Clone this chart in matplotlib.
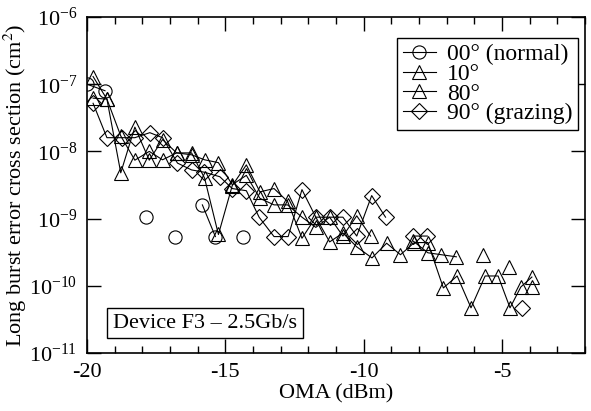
import numpy as np
import matplotlib
matplotlib.use('Agg')
import matplotlib.pyplot as plt
from matplotlib.ticker import MultipleLocator, LogLocator, NullLocator

nan = np.nan

# 00 deg (normal)
x_00 = [-20.0, -19.35, -18.9, -17.88, -17.35, -16.83, -16.3, -15.83, -15.36, -14.85, -14.35]
y_00 = [1.0e-7, 8.0e-8, nan, 1.05e-9, nan, 5.4e-10, nan, 1.6e-9, 5.4e-10, nan, 5.4e-10]

# 10 deg
x_10 = [-19.78, -19.28, -18.78, -18.27, -17.75, -17.27, -16.76, -16.22, -15.75, -15.25,
        -14.75, -14.24, -13.75, -13.24, -12.75, -12.23, -11.73, -11.23, -10.75, -10.25,
        -9.7, -9.17, -8.67, -8.17, -7.68, -7.12, -6.62, -6.12, -5.61, -5.14, -4.71, -4.32, -3.92]
y_10 = [1.3e-7, 6.0e-8, 4.8e-9, 2.3e-8, 7.4e-9, 1.5e-8, 9.5e-9, 9.5e-9, 4.0e-9, 5.8e-10,
        3.1e-9, 6.3e-9, 2.5e-9, 2.8e-9, 1.8e-9, 5.1e-10, 1.05e-9, 4.5e-10, 6.1e-10, 3.8e-10,
        2.6e-10, 4.3e-10, 2.9e-10, 4.4e-10, 4.4e-10, 9.3e-11, 1.4e-10, 4.7e-11, 1.4e-10, 1.4e-10,
        4.7e-11, 9.6e-11, 1.35e-10]

# 80 deg
x_80 = [-19.78, -19.28, -18.78, -18.27, -17.75, -17.27, -16.76, -16.22, -15.75, -15.25,
        -14.75, -14.24, -13.75, -13.24, -12.75, -12.23, -11.73, -11.23, -10.75, -10.25,
        -9.75, -9.2, -8.7, -8.2, -7.68, -7.19, -6.65, -6.15, -5.68, -5.15, -4.75, -4.3, -3.92]
y_80 = [6.2e-8, 6.0e-8, 1.7e-8, 7.4e-9, 1.0e-8, 7.5e-9, 9.5e-9, 8.9e-9, 7.5e-9, 6.8e-9,
        3.2e-9, 4.4e-9, 2.0e-9, 1.6e-9, 1.6e-9, 1.05e-9, 7.4e-10, 1.05e-9, 5.5e-10, 1.1e-9,
        5.5e-10, nan, nan, 4.6e-10, 3.1e-10, 2.9e-10, 2.7e-10, nan, 2.9e-10, nan,
        1.9e-10, nan, 9.6e-11]

# 90 deg (grazing)
x_90 = [-19.78, -19.28, -18.74, -18.27, -17.73, -17.27, -16.73, -16.22, -15.76, -15.2,
        -14.75, -14.24, -13.78, -13.24, -12.73, -12.23, -11.73, -11.23, -10.75, -10.25,
        -9.71, -9.21, -8.7, -8.2, -7.7, -7.2, -4.28]
y_90 = [5.2e-8, 1.6e-8, 1.6e-8, 1.6e-8, 1.9e-8, 1.6e-8, 6.7e-9, 5.3e-9, 4.9e-9, 4.2e-9,
        2.8e-9, 2.6e-9, 1.05e-9, 5.4e-10, 5.4e-10, 2.7e-9, 1.05e-9, 1.05e-9, 1.05e-9, 5.5e-10,
        2.2e-9, 1.05e-9, nan, 5.5e-10, 5.5e-10, nan, 4.7e-11]

plt.rcParams['font.family'] = ['Liberation Serif', 'DejaVu Serif']
plt.rcParams['mathtext.fontset'] = 'stix'
plt.rcParams['font.size'] = 16
plt.rcParams['axes.unicode_minus'] = False

fig = plt.figure(figsize=(5.91, 4.11), dpi=100)
ax = fig.add_axes([87 / 591, 58 / 411, 498 / 591, 336 / 411])

style = dict(color='black', linewidth=0.8, markerfacecolor='none',
             markeredgecolor='black', markeredgewidth=0.8, markersize=9.5)
ax.plot(x_00, y_00, marker='o', label='00\u00b0 (normal)', **style)
ax.plot(x_10, y_10, marker='^', label='10\u00b0', **style)
ax.plot(x_80, y_80, marker='^', label='80\u00b0', **style)
ax.plot(x_90, y_90, marker='D', label='90\u00b0 (grazing)', **dict(style, markersize=8.5))

ax.set_yscale('log')
ax.set_xlim(-20, -2)
ax.set_ylim(1e-11, 1e-6)
ax.xaxis.set_major_locator(MultipleLocator(5))
ax.xaxis.set_minor_locator(MultipleLocator(1))
ax.yaxis.set_major_locator(LogLocator(base=10, numticks=10))
ax.yaxis.set_minor_locator(NullLocator())
ax.tick_params(which='both', direction='in', top=True, right=True, width=1)
ax.tick_params(which='major', length=10, pad=7)
ax.tick_params(which='minor', length=5)
for s in ax.spines.values():
    s.set_linewidth(1.2)

ax.set_xlabel('OMA (dBm)', labelpad=2)
ax.set_ylabel('Long burst error cross section (cm$^2$)', labelpad=0)

leg = ax.legend(loc='upper right', bbox_to_anchor=(0.986, 0.9375), borderaxespad=0,
                fancybox=False, edgecolor='black', framealpha=1, fontsize=17,
                handlelength=1.4, handletextpad=0.45, labelspacing=-0.08, borderpad=0.25)
leg.get_frame().set_linewidth(1)

ax.text(0.237, 0.089, 'Device F3 \u2013 2.5Gb/s', transform=ax.transAxes,
        ha='center', va='center',
        bbox=dict(boxstyle='square,pad=0.25', facecolor='white', edgecolor='black', linewidth=1))

fig.savefig('out.png', dpi=100)
